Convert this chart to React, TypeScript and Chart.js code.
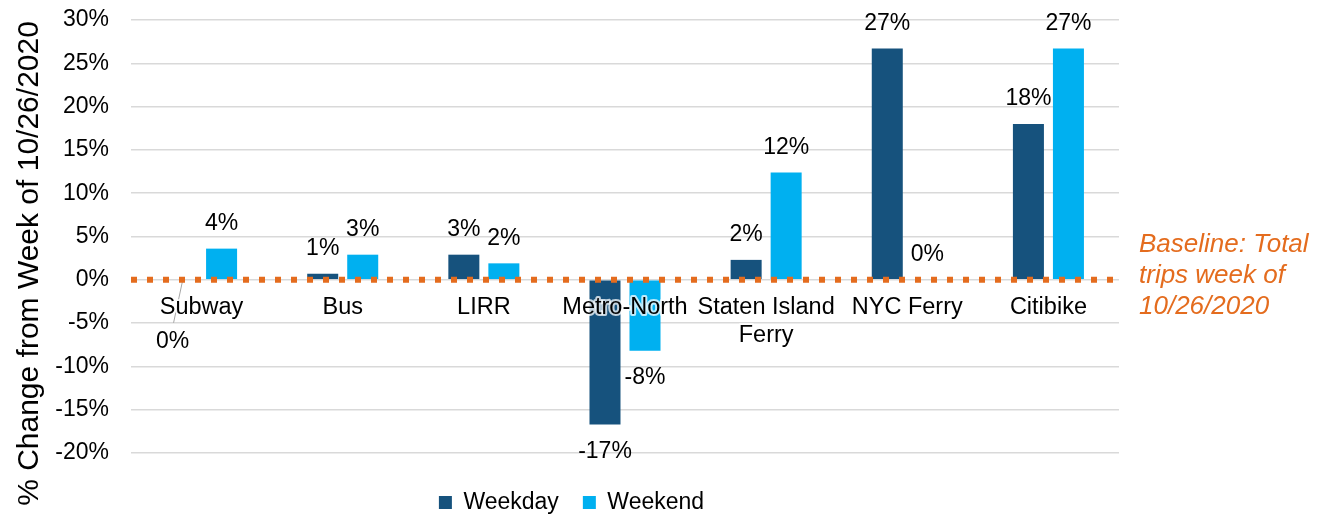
import React, { useEffect, useRef } from "react";
import { Chart, registerables } from "chart.js";

Chart.register(...registerables);

// ---- data ----
const categories: string[][] = [
  ["Subway"],
  ["Bus"],
  ["LIRR"],
  ["Metro-North"],
  ["Staten Island", "Ferry"],
  ["NYC Ferry"],
  ["Citibike"],
];
const weekday = [0, 0.7, 2.9, -16.7, 2.3, 26.7, 18.0];
const weekend = [3.6, 2.9, 1.9, -8.2, 12.4, 0, 26.7];
const seriesNames = ["Weekday", "Weekend"];
const yMin = -20;
const yMax = 30;
const yStep = 5;
const yTitle = "% Change from Week of 10/26/2020";
const baselineNote = ["Baseline: Total", "trips week of", "10/26/2020"];

// ---- styles ----
const DARK = "#16527D";
const LIGHT = "#00B0F0";
const ORANGE = "#E46C1E";
const FONT = "'Liberation Sans', Arial, sans-serif";

const fmt = (v: number) => `${Math.round(v) === 0 ? 0 : Math.round(v)}%`;

const overlay = {
  id: "overlay",
  afterDatasetsDraw(chart: any) {
    const { ctx, chartArea, scales } = chart;
    const x = scales.x;
    const y = scales.y;
    const y0 = y.getPixelForValue(0);
    ctx.save();

    // leader line for the Subway weekday label
    const sub = chart.getDatasetMeta(0).data[0];
    ctx.strokeStyle = "#a6a6a6";
    ctx.lineWidth = 1;
    ctx.beginPath();
    ctx.moveTo(sub.x + 1, y0 + 1);
    ctx.lineTo(sub.x - 8, y0 + 43);
    ctx.stroke();

    // dotted baseline
    ctx.strokeStyle = ORANGE;
    ctx.lineWidth = 6;
    ctx.setLineDash([6, 10]);
    ctx.beginPath();
    ctx.moveTo(chartArea.left, y0);
    ctx.lineTo(chartArea.right, y0);
    ctx.stroke();
    ctx.setLineDash([]);

    // category labels
    ctx.font = `23.5px ${FONT}`;
    ctx.textAlign = "center";
    ctx.textBaseline = "middle";
    ctx.lineJoin = "round";
    categories.forEach((lines, i) => {
      const cx = x.getPixelForValue(i);
      lines.forEach((t, j) => {
        const ty = y0 + 28 + j * 28;
        ctx.strokeStyle = "rgba(255,255,255,0.75)";
        ctx.lineWidth = 4;
        ctx.strokeText(t, cx, ty);
        ctx.fillStyle = "#000";
        ctx.fillText(t, cx, ty);
      });
    });

    // data labels
    ctx.font = `23px ${FONT}`;
    ctx.fillStyle = "#000";
    chart.data.datasets.forEach((ds: any, di: number) => {
      const meta = chart.getDatasetMeta(di);
      meta.data.forEach((bar: any, i: number) => {
        const v = ds.data[i] as number;
        let lx = bar.x;
        let ly = v >= 0 ? bar.y - 25 : bar.y + 27;
        if (di === 0 && i === 0) {
          lx = bar.x - 9;
          ly = y0 + 62;
        }
        ctx.fillText(fmt(v), lx, ly);
      });
    });

    // baseline note
    ctx.font = `italic 26px ${FONT}`;
    ctx.fillStyle = ORANGE;
    ctx.textAlign = "left";
    baselineNote.forEach((t, k) => {
      ctx.fillText(t, chartArea.right + 20, y0 - 35 + k * 31);
    });

    // y axis title
    ctx.font = `30px ${FONT}`;
    ctx.fillStyle = "#000";
    ctx.textAlign = "center";
    ctx.translate(30, (chartArea.top + chartArea.bottom) / 2 + 27);
    ctx.rotate(-Math.PI / 2);
    ctx.fillText(yTitle, 0, 0);
    ctx.restore();
  },
};

export default function App() {
  const ref = useRef<HTMLCanvasElement | null>(null);
  useEffect(() => {
    document.body.style.margin = "0";
    const canvas = ref.current!;
    const chart = new Chart(canvas, {
      type: "bar",
      data: {
        labels: categories.map((c) => c.join(" ")),
        datasets: [
          {
            label: seriesNames[0],
            data: weekday,
            backgroundColor: DARK,
            categoryPercentage: 0.567,
            barPercentage: 0.775,
          },
          {
            label: seriesNames[1],
            data: weekend,
            backgroundColor: LIGHT,
            categoryPercentage: 0.567,
            barPercentage: 0.775,
          },
        ],
      },
      options: {
        responsive: false,
        animation: false,
        devicePixelRatio: 1,
        layout: { padding: { top: 20, right: 201, bottom: -4, left: 24 } },
        plugins: {
          tooltip: { enabled: false },
          legend: {
            position: "bottom",
            labels: {
              boxWidth: 13,
              boxHeight: 13,
              padding: 24,
              color: "#000",
              font: { family: FONT, size: 23 },
            },
          },
        },
        scales: {
          x: {
            display: true,
            ticks: { display: false },
            grid: { display: false },
            border: { display: false },
            afterFit: (s: any) => {
              s.height = 14;
            },
          },
          y: {
            min: yMin,
            max: yMax,
            ticks: {
              stepSize: yStep,
              padding: 22,
              color: "#000",
              font: { family: FONT, size: 23 },
              callback: (v: any) => `${v}%`,
            },
            grid: { color: "#d9d9d9", lineWidth: 1.5, drawTicks: false },
            border: { display: false },
            afterFit: (s: any) => {
              s.width = 107;
              s.paddingTop = 0;
              s.paddingBottom = 0;
            },
          },
        },
      },
      plugins: [overlay],
    });
    return () => chart.destroy();
  }, []);
  return (
    <div style={{ width: 1320, height: 520 }}>
      <canvas ref={ref} width={1320} height={520} />
    </div>
  );
}
